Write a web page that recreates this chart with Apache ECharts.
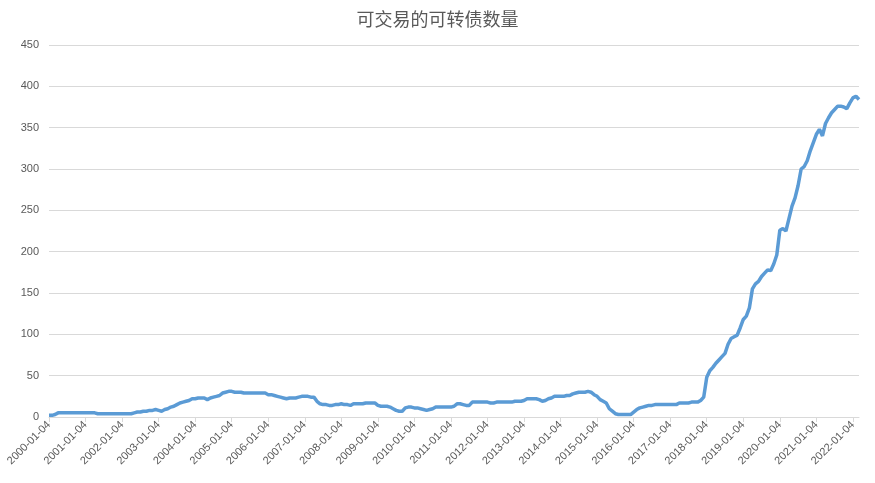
<!DOCTYPE html>
<html>
<head>
<meta charset="utf-8">
<script src="https://cdn.jsdelivr.net/npm/echarts@6/dist/echarts.min.js"></script>
<style>html,body{margin:0;padding:0;background:#fff;}#c{width:875px;height:483px;}</style>
</head>
<body>
<div id="c"></div>
<script>
// Monthly values (number of tradable convertible bonds)
var v2000 = [2,2,3,5,5,5,5,5,5,5,5,5];
var v2001 = [5,5,5,5,4,4,4,4,4,4,4,4];
var v2002 = [4,4,4,4,5,6,6,7,7,8,8,9];
var v2003 = [8,7,9,10,12,13,15,17,18,19,20,22];
var v2004 = [22,23,23,23,21,23,24,25,26,29,30,31];
var v2005 = [31,30,30,30,29,29,29,29,29,29,29,29];
var v2006 = [27,27,26,25,24,23,22,23,23,23,24,25];
var v2007 = [25,25,24,24,19,16,15,15,14,14,15,15];
var v2008 = [16,15,15,14,16,16,16,16,17,17,17,17];
var v2009 = [14,13,13,13,12,10,8,7,7,11,12,12];
var v2010 = [11,11,10,9,8,9,10,12,12,12,12,12];
var v2011 = [12,13,16,16,15,14,14,18,18,18,18,18];
var v2012 = [18,17,17,18,18,18,18,18,18,19,19,19];
var v2013 = [20,22,22,22,22,21,19,20,22,23,25,25];
var v2014 = [25,25,26,26,28,29,30,30,30,31,30,27];
var v2015 = [25,21,19,17,10,7,4,3,3,3,3,3];
var v2016 = [6,9,11,12,13,14,14,15,15,15,15,15];
var v2017 = [15,15,15,17,17,17,17,18,18,18,20,24];
var v2018 = [48,56,60,65,69,73,77,88,95,97,99,108];
var v2019 = [118,122,132,155,161,164,170,174,178,177,185,196];
var v2020 = [226,228,225,240,255,265,280,300,303,310,322,332];
var v2021 = [342,348,340,355,362,368,372,376,376,375,373,380];
var v2022 = [386,388,384];

var yearly = [v2000,v2001,v2002,v2003,v2004,v2005,v2006,v2007,v2008,v2009,v2010,
              v2011,v2012,v2013,v2014,v2015,v2016,v2017,v2018,v2019,v2020,v2021,v2022];
var startYear = 2000;

var dates = [];
var values = [];
yearly.forEach(function (arr, yi) {
  arr.forEach(function (v, m) {
    var mm = (m + 1 < 10 ? '0' : '') + (m + 1);
    dates.push((startYear + yi) + '-' + mm + '-04');
    values.push(v);
  });
});

var chart = echarts.init(document.getElementById('c'));
chart.setOption({
  animation: false,
  title: {
    text: '可交易的可转债数量',
    left: 'center',
    top: 5,
    textStyle: { fontFamily: 'Noto Sans CJK SC', fontSize: 18, fontWeight: 'normal', color: '#595959' }
  },
  grid: { left: 49, right: 16, top: 45, bottom: 66, containLabel: false },
  xAxis: {
    type: 'category',
    data: dates,
    boundaryGap: false,
    axisLine: { lineStyle: { color: '#d9d9d9', width: 1 } },
    axisTick: { show: true, interval: 11, length: 5, lineStyle: { color: '#d9d9d9' } },
    axisLabel: {
      interval: 11, rotate: 45, color: '#595959', fontSize: 11,
      fontFamily: 'Liberation Sans', margin: 6
    },
    splitLine: { show: false }
  },
  yAxis: {
    type: 'value',
    min: 0, max: 450, interval: 50,
    axisLine: { show: false },
    axisTick: { show: false },
    axisLabel: { color: '#595959', fontSize: 11, fontFamily: 'Liberation Sans', margin: 10 },
    splitLine: { lineStyle: { color: '#d9d9d9', width: 1 } }
  },
  series: [{
    type: 'line',
    data: values,
    showSymbol: false,
    symbol: 'none',
    lineStyle: { color: '#5b9bd5', width: 3.5 },
    itemStyle: { color: '#5b9bd5' }
  }]
});
</script>
</body>
</html>
